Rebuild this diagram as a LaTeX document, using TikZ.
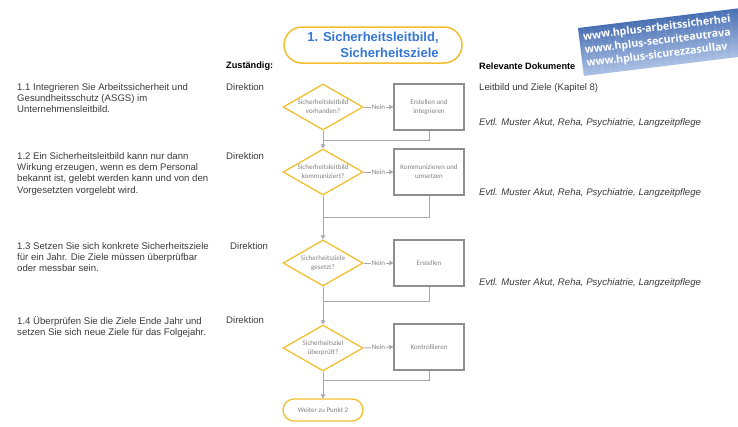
\documentclass[tikz,border=0pt]{standalone}
\usepackage{fontspec}
\setmainfont{Liberation Sans}
\newfontfamily\fcfont{Carlito}
\newfontfamily\wmfont{Open Sans}
\usetikzlibrary{shapes.geometric,arrows.meta}
\definecolor{yel}{HTML}{F2BE30}
\definecolor{tblue}{HTML}{3477D2}
\definecolor{lgray}{HTML}{A8A8A8}
\definecolor{bgray}{HTML}{8E8E8E}
\definecolor{dtext}{HTML}{3A3A3A}
\definecolor{fctext}{HTML}{808080}
\definecolor{wmdark}{HTML}{4A70B4}
\definecolor{wmlight}{HTML}{A8BEE2}
\tikzset{
  body/.style={anchor=north west, inner sep=0pt, text=dtext, font=\fontsize{9.6}{11.3}\selectfont},
  desc/.style={body, align=left},
  doc/.style={body, font=\fontsize{9.6}{11.3}\selectfont\itshape},
  head/.style={body, text=black, font=\fontsize{9.2}{11}\selectfont\bfseries},
  fctxt/.style={font=\fcfont\fontsize{7}{9}\selectfont, text=fctext, align=center},
  decision/.style={diamond, draw=yel, line width=1.3pt, minimum width=80pt, minimum height=46pt, inner sep=0pt, aspect=1.74},
  task/.style={rectangle, draw=bgray, line width=1.4pt, minimum width=70pt, minimum height=46pt, fctxt},
  term/.style={rectangle, rounded corners=11pt, draw=yel, line width=1.3pt, minimum width=80pt, minimum height=22pt, fctxt},
  flow/.style={draw=lgray, line width=0.9pt},
  arr/.style={flow, -{Triangle[width=4.5pt,length=4pt]}},
  nein/.style={fill=white, inner sep=0.8pt, fctxt},
  wmtext/.style={anchor=west, inner sep=0pt, transform shape, text=white, font=\wmfont\bfseries\fontsize{10.6}{12}\selectfont}
}
\begin{document}
\begin{tikzpicture}[x=1pt,y=-1pt]
\useasboundingbox (0,0) rectangle (738,426);
\clip (0,0) rectangle (738,426);

% watermark banner (gradient built from thin strips)
\begin{scope}[shift={(578,28)}, rotate=7]
  \foreach \k in {0,...,23}{
    \pgfmathsetmacro{\p}{100-\k*100/23}
    \fill[wmdark!\p!wmlight] (0,{2*\k}) rectangle (185,{2*\k+2.3});
  }
  \node[wmtext] (w1) at (4,10) {www.hplus-arbeitssicherhei};
  \node[wmtext] (w2) at (4,23.5) {www.hplus-securiteautrava};
  \node[wmtext] (w3) at (4,37) {www.hplus-sicurezzasullav};
\end{scope}

% title
\node[rectangle, rounded corners=18pt, draw=yel, line width=1.5pt, minimum width=178pt, minimum height=36pt,
      align=right, text=tblue, font=\fontsize{13}{15.5}\selectfont\bfseries] (title) at (373,45)
      {1. Sicherheitsleitbild,\\Sicherheitsziele};

% headings
\node[head] (hz) at (226,62) {Zuständig:};
\node[head] (hr) at (479,63) {Relevante Dokumente};

% left descriptions
\node[desc] (t1) at (17,83) {1.1 Integrieren Sie Arbeitssicherheit und\\Gesundheitsschutz (ASGS) im\\Unternehmensleitbild.};
\node[desc] (t2) at (17,152) {1.2 Ein Sicherheitsleitbild kann nur dann\\Wirkung erzeugen, wenn es dem Personal\\bekannt ist, gelebt werden kann und von den\\Vorgesetzten vorgelebt wird.};
\node[desc] (t3) at (17,242) {1.3 Setzen Sie sich konkrete Sicherheitsziele\\für ein Jahr. Die Ziele müssen überprüfbar\\oder messbar sein.};
\node[desc] (t4) at (17,316) {1.4 Überprüfen Sie die Ziele Ende Jahr und\\setzen Sie sich neue Ziele für das Folgejahr.};

% responsible
\node[body] (r1) at (226,83) {Direktion};
\node[body] (r2) at (226,152) {Direktion};
\node[body] (r3) at (230,242) {Direktion};
\node[body] (r4) at (226,316) {Direktion};

% documents
\node[body] (k1) at (479,83) {Leitbild und Ziele (Kapitel 8)};
\node[doc] (k2) at (479,118) {Evtl. Muster Akut, Reha, Psychiatrie, Langzeitpflege};
\node[doc] (k3) at (479,188) {Evtl. Muster Akut, Reha, Psychiatrie, Langzeitpflege};
\node[doc] (k4) at (479,278) {Evtl. Muster Akut, Reha, Psychiatrie, Langzeitpflege};

% flowchart
\node[decision, label={[fctxt]center:Sicherheitsleitbild\\vorhanden?}] (d1) at (323,107) {};
\node[decision, label={[fctxt]center:Sicherheitsleitbild\\kommuniziert?}] (d2) at (323,172) {};
\node[decision, label={[fctxt]center:Sicherheitsziele\\gesetzt?}] (d3) at (323,263) {};
\node[decision, label={[fctxt]center:Sicherheitsziel\\überprüft?}] (d4) at (323,348) {};
\node[term] (end) at (323,410) {Weiter zu Punkt 2};

\node[task] (b1) at (429,107) {Erstellen und\\integrieren};
\node[task] (b2) at (429,172) {Kommunizieren und\\umsetzen};
\node[task] (b3) at (429,263) {Erstellen};
\node[task] (b4) at (429,347) {Kontrollieren};

\coordinate (j1) at (323,140);
\coordinate (j2) at (323,217);
\coordinate (j3) at (323,301);
\coordinate (j4) at (323,380);

\foreach \i in {1,2,3,4}{
  \draw[arr] (d\i.east) -- node[nein]{Nein} (b\i.west);
  \draw[flow] (b\i.south) |- (j\i);
}
\draw[arr] (d1.south) -- (d2.north);
\draw[arr] (d2.south) -- (d3.north);
\draw[arr] (d3.south) -- (d4.north);
\draw[arr] (d4.south) -- (end.north);
\end{tikzpicture}
\end{document}
